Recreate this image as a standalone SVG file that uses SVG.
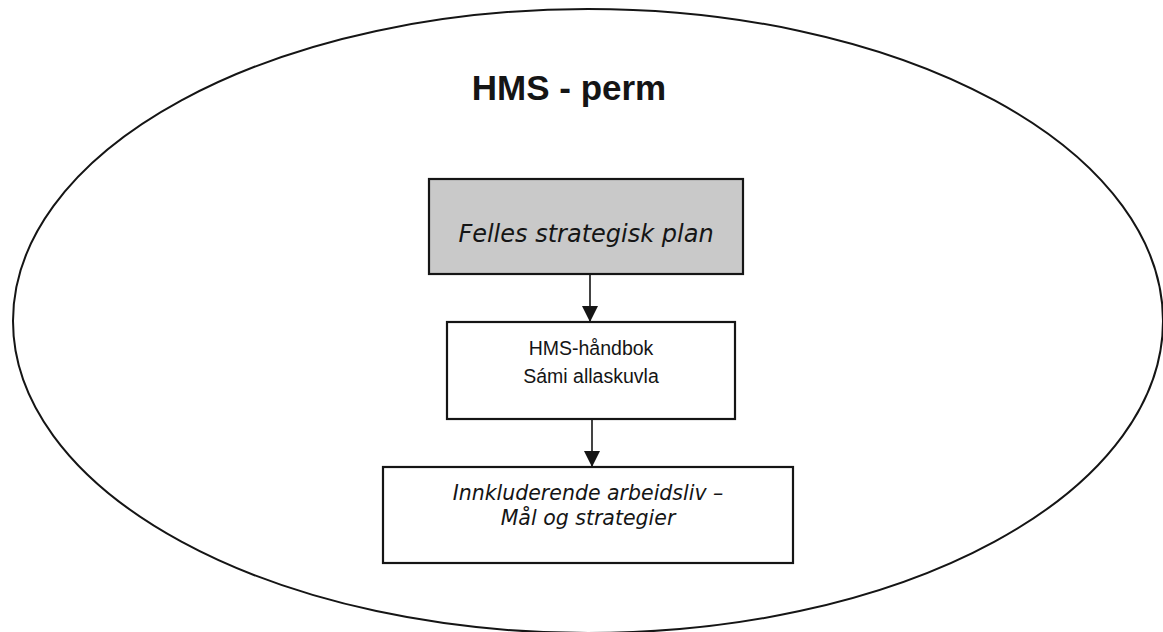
<svg xmlns="http://www.w3.org/2000/svg" width="1163" height="632" viewBox="0 0 1163 632">
<style>
.box{stroke:#151515;stroke-width:2.2;}
.conn{stroke:#151515;stroke-width:1.6;fill:none;}
.it{font-family:"DejaVu Sans",Verdana,sans-serif;font-style:italic;fill:#151515;text-anchor:middle;}
.sans{font-family:"Liberation Sans",Arial,sans-serif;fill:#151515;text-anchor:middle;}
</style>
<defs>
<marker id="arr" viewBox="0 0 16 16" refX="16" refY="8" markerWidth="16" markerHeight="16" markerUnits="userSpaceOnUse" orient="auto">
<path d="M0,0 L16,8 L0,16 Z" fill="#151515"/>
</marker>
</defs>
<rect width="1163" height="632" fill="#ffffff"/>
<g id="perm">
<ellipse cx="588" cy="321" rx="575" ry="312" fill="none" stroke="#151515" stroke-width="2"/>
<text class="sans" x="569" y="100" font-size="35" font-weight="bold">HMS - perm</text>
</g>
<g id="connectors">
<line class="conn" x1="590" y1="275" x2="590" y2="322" marker-end="url(#arr)"/>
<line class="conn" x1="592" y1="420" x2="592" y2="467" marker-end="url(#arr)"/>
</g>
<g id="felles">
<rect class="box" x="429" y="179" width="314" height="95" fill="#c9c9c9"/>
<text class="it" x="586" y="242" font-size="24">Felles strategisk plan</text>
</g>
<g id="handbok">
<rect class="box" x="447" y="322" width="288" height="97" fill="#ffffff"/>
<text class="sans" x="591" y="355" font-size="19.5">HMS-håndbok</text>
<text class="sans" x="591" y="383" font-size="19.5">Sámi allaskuvla</text>
</g>
<g id="ia">
<rect class="box" x="383" y="467" width="410" height="96" fill="#ffffff"/>
<text class="it" x="588" y="500" font-size="20.5">Innkluderende arbeidsliv –</text>
<text class="it" x="588" y="525" font-size="20.5">Mål og strategier</text>
</g>
</svg>
